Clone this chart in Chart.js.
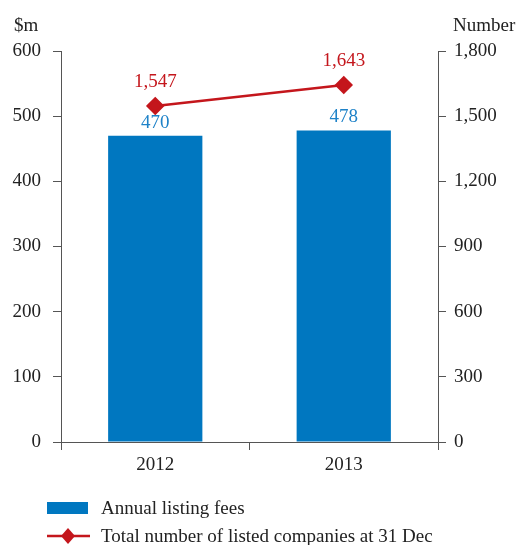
<!DOCTYPE html>
<html><head><meta charset="utf-8">
<script src="https://cdn.jsdelivr.net/npm/chart.js@4/dist/chart.umd.min.js"></script>
<style>html,body{margin:0;padding:0;background:#fff;}#wrap{position:relative;width:518px;height:545px;}</style>
</head><body><div id="wrap"><canvas id="c" width="518" height="545"></canvas></div>
<script>
const categories = ['2012', '2013'];
const feesValues = [470, 478];
const companiesValues = [1547, 1643];
const leftTicks = [0, 100, 200, 300, 400, 500, 600];
const rightTicks = [0, 300, 600, 900, 1200, 1500, 1800];
const feesLabel = 'Annual listing fees';
const companiesLabel = 'Total number of listed companies at 31 Dec';
const leftTitle = '$m';
const rightTitle = 'Number';

const BLUE = '#0077C0', BLUE_TXT = '#1E82C8', RED = '#C4161C', AXIS = '#555555', TXT = '#222222';
const FONT = '"Liberation Serif", "Times New Roman", serif';

const extras = {
  id: 'extras',
  afterDatasetsDraw(chart) {
    const ctx = chart.ctx;
    ctx.save();
    ctx.font = '19px ' + FONT;
    ctx.textAlign = 'center';
    ctx.textBaseline = 'middle';
    chart.getDatasetMeta(0).data.forEach((el, i) => {
      ctx.fillStyle = BLUE_TXT;
      ctx.fillText(String(feesValues[i]), el.x, el.y - 13);
    });
    chart.getDatasetMeta(1).data.forEach((el, i) => {
      ctx.fillStyle = RED;
      ctx.fillText(companiesValues[i].toLocaleString('en-US'), el.x, el.y - 24);
    });
    // axis titles
    ctx.fillStyle = TXT;
    ctx.textAlign = 'left';
    ctx.fillText(leftTitle, 14, 26);
    ctx.fillText(rightTitle, 453, 26);
    // legend
    ctx.fillStyle = BLUE;
    ctx.fillRect(47, 502, 41, 12);
    ctx.strokeStyle = RED;
    ctx.lineWidth = 2.5;
    ctx.beginPath(); ctx.moveTo(47, 536); ctx.lineTo(90, 536); ctx.stroke();
    ctx.fillStyle = RED;
    ctx.beginPath(); ctx.moveTo(68, 528); ctx.lineTo(75, 536); ctx.lineTo(68, 544); ctx.lineTo(61, 536); ctx.closePath(); ctx.fill();
    ctx.fillStyle = TXT;
    ctx.fillText(feesLabel, 101, 509);
    ctx.fillText(companiesLabel, 101, 537);
    ctx.restore();
  }
};

new Chart(document.getElementById('c'), {
  data: {
    labels: categories,
    datasets: [
      { type: 'bar', label: feesLabel, data: feesValues, backgroundColor: BLUE, yAxisID: 'y',
        categoryPercentage: 1, barPercentage: 0.5, order: 1 },
      { type: 'line', label: companiesLabel, data: companiesValues, borderColor: RED, backgroundColor: RED,
        borderWidth: 2.5, pointStyle: 'rectRot', pointRadius: 7.5, pointHoverRadius: 7.5, yAxisID: 'y1', order: 0 }
    ]
  },
  options: {
    responsive: false, animation: false,
    layout: { padding: { top: 51, bottom: 53, left: 0, right: 0 } },
    plugins: { legend: { display: false }, tooltip: { enabled: false } },
    scales: {
      x: {
        offset: true,
        grid: { offset: true, drawOnChartArea: false, drawTicks: true, tickLength: 8, color: AXIS },
        border: { color: AXIS, width: 1 },
        ticks: { color: TXT, font: { family: FONT, size: 19 }, padding: 4 },
        afterFit(s) { s.height = 50; }
      },
      y: {
        position: 'left', min: 0, max: 600,
        afterBuildTicks(s) { s.ticks = leftTicks.map(v => ({ value: v })); },
        grid: { drawOnChartArea: false, drawTicks: true, tickLength: 8, color: AXIS },
        border: { color: AXIS, width: 1 },
        ticks: { color: TXT, font: { family: FONT, size: 19 }, padding: 12 },
        afterFit(s) { s.width = 61; }
      },
      y1: {
        position: 'right', min: 0, max: 1800,
        afterBuildTicks(s) { s.ticks = rightTicks.map(v => ({ value: v })); },
        grid: { drawOnChartArea: false, drawTicks: true, tickLength: 8, color: AXIS },
        border: { color: AXIS, width: 1 },
        ticks: { color: TXT, font: { family: FONT, size: 19 }, padding: 8,
          callback: v => Number(v).toLocaleString('en-US') },
        afterFit(s) { s.width = 80; }
      }
    }
  },
  plugins: [extras]
});
</script></body></html>
